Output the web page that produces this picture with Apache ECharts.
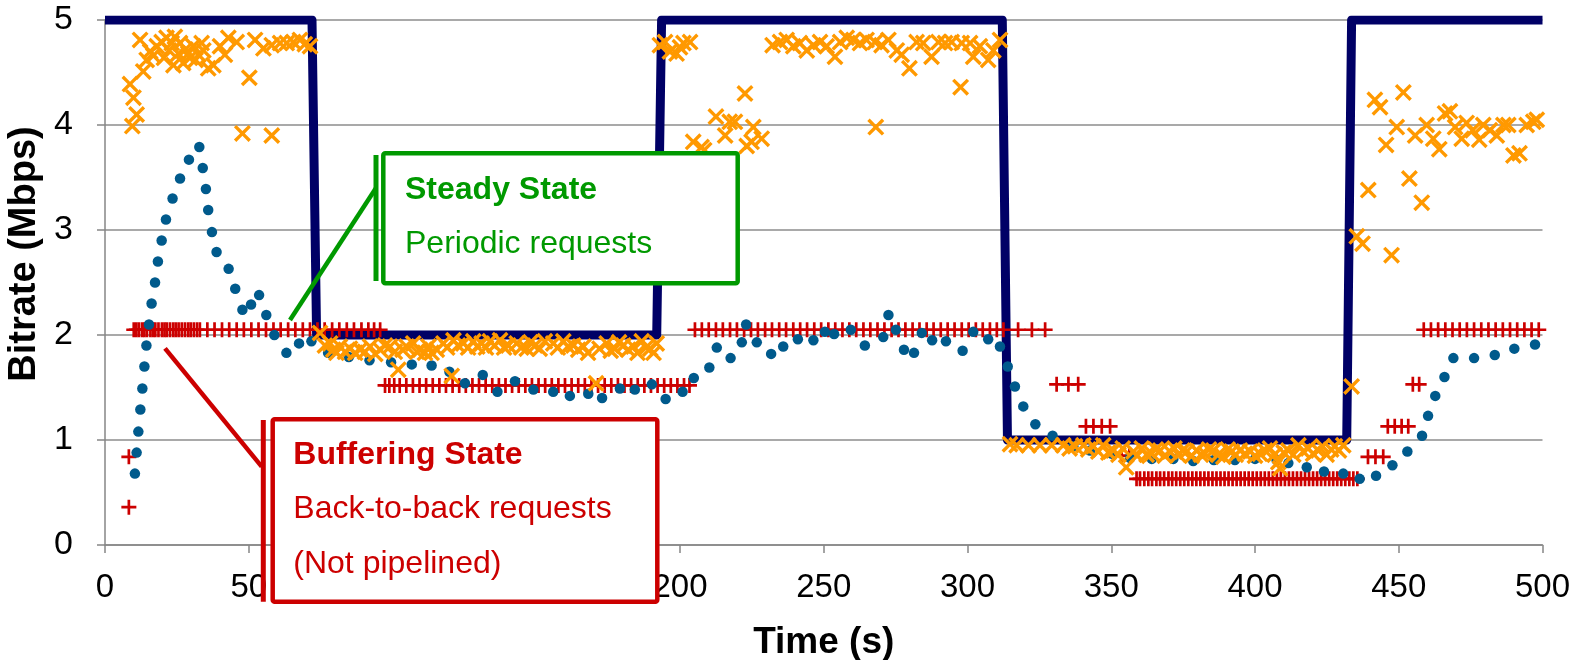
<!DOCTYPE html>
<html>
<head>
<meta charset="utf-8">
<script src="https://cdn.jsdelivr.net/npm/echarts@6/dist/echarts.min.js"></script>
<style>
  html, body { margin: 0; padding: 0; background: #fff; }
  #chart { width: 1591px; height: 660px; }
</style>
</head>
<body>
<div id="chart"></div>
<script>
// Selected (available) bitrate level over time: a step profile
const levelTimes = [0, 72.0, 73.6, 191.9, 193.6, 312.1, 313.9, 431.9, 433.6, 500];
const levelRates = [5, 5, 2, 2, 5, 5, 1, 1, 5, 5];

// Measured throughput (dots)
const dotTimes = [10.4, 11.0, 11.6, 12.3, 13.0, 13.7, 14.4, 15.3, 16.2, 17.4, 18.4, 19.7, 21.2, 23.5, 26.1, 29.2, 32.8, 34.0, 35.1, 35.9,
  37.2, 38.8, 43.0, 45.3, 47.8, 50.8, 53.6, 56.1, 58.9, 63.1, 67.5, 71.8, 77.6, 84.8, 92.0, 99.5, 106.7, 113.6, 119.8, 125.2,
  131.4, 136.5, 142.6, 149.0, 155.9, 161.7, 168.1, 172.9, 179.1, 184.3, 190.2, 195.0, 200.9, 204.8, 210.2, 212.8, 217.6, 221.5, 223.0, 226.7,
  231.7, 235.9, 241.0, 246.4, 250.4, 253.6, 259.4, 264.3, 270.7, 272.5, 275.1, 277.9, 281.4, 284.1, 287.7, 292.5, 298.3, 302.0, 307.2, 311.3,
  314.0, 316.5, 319.4, 323.6, 329.6, 336.8, 342.6, 350.1, 356.5, 364.1, 371.6, 378.5, 385.7, 393.0, 400.0, 407.5, 411.6, 418.0, 424.0, 430.7,
  436.4, 442.1, 447.8, 453.0, 458.1, 460.2, 462.7, 465.9, 469.0, 476.2, 483.4, 490.2, 497.4];
const dotRates = [0.68, 0.88, 1.08, 1.29, 1.49, 1.70, 1.90, 2.10, 2.30, 2.50, 2.70, 2.90, 3.10, 3.30, 3.49, 3.67, 3.79, 3.59, 3.39, 3.19,
  2.98, 2.79, 2.63, 2.44, 2.24, 2.29, 2.38, 2.19, 2.00, 1.83, 1.92, 1.94, 1.83, 1.79, 1.76, 1.74, 1.72, 1.71, 1.65, 1.54,
  1.62, 1.46, 1.56, 1.48, 1.46, 1.42, 1.44, 1.40, 1.49, 1.48, 1.53, 1.39, 1.46, 1.59, 1.69, 1.88, 1.78, 1.93, 2.10, 1.93,
  1.82, 1.89, 1.96, 1.95, 2.03, 2.01, 2.05, 1.90, 1.98, 2.19, 2.05, 1.86, 1.83, 2.02, 1.95, 1.94, 1.85, 2.03, 1.96, 1.89,
  1.70, 1.51, 1.32, 1.15, 1.04, 0.94, 0.90, 0.87, 0.83, 0.82, 0.82, 0.80, 0.81, 0.81, 0.82, 0.81, 0.78, 0.74, 0.70, 0.68,
  0.63, 0.66, 0.76, 0.89, 1.04, 1.23, 1.42, 1.60, 1.78, 1.78, 1.81, 1.87, 1.91];

// Per-segment download rate (crosses)
const crossTimes = [8.7, 9.5, 9.9, 11.0, 12.2, 13.3, 14.5, 15.7, 16.8, 18.0, 19.7, 20.5, 21.4, 22.3, 23.2, 23.8, 24.3, 25.5, 26.1, 27.2,
  28.0, 29.0, 29.6, 30.7, 31.5, 32.5, 33.6, 34.2, 35.9, 37.7, 40.0, 41.7, 42.9, 45.8, 47.8, 50.2, 52.2, 55.1, 58.0, 58.0,
  60.9, 63.2, 65.5, 67.8, 69.5, 71.3,
  74.8, 76.5, 78.3, 79.4, 80.5, 81.7, 83.5, 85.2, 87.0, 88.7, 90.4, 92.2, 94.0, 95.7, 97.4, 99.1, 100.8, 102.0, 103.5, 104.9,
  107.2, 108.5, 109.6, 111.3, 112.5, 113.6, 115.4, 117.7, 119.0, 120.6, 121.2, 122.8, 124.6, 126.3, 128.1, 129.5, 131.0, 132.5, 133.9, 135.5,
  137.4, 138.8, 140.3, 143.2, 144.8, 146.7, 148.0, 149.6, 151.2, 153.0, 155.9, 157.5, 159.4, 161.0, 162.9, 164.6, 166.4, 168.0, 170.8, 172.0,
  174.5, 175.9, 177.4, 178.8, 180.3, 182.0, 183.8, 185.2, 186.7, 188.2, 189.6, 190.8, 191.9,
  193.0, 194.8, 196.5, 198.8, 200.0, 201.2, 203.5, 204.6, 207.5, 208.4, 212.5, 215.7, 217.3, 219.1, 222.6, 223.2, 224.9, 225.5, 228.4,
  232.2, 234.8, 237.1, 239.4, 241.7, 244.1, 246.4, 248.7, 251.0, 253.9, 255.7, 258.0, 260.3, 262.6, 264.9, 267.8, 268.1, 270.1, 272.5, 275.4,
  277.1, 279.8, 282.3, 284.6, 287.5, 289.9, 292.2, 294.5, 297.6, 298.0, 300.9, 302.0, 304.3, 307.2, 309.0, 311.3,
  314.8, 317.1, 321.2, 325.2, 329.3, 333.3, 335.5, 337.4, 340.3, 342.0, 343.8, 345.5, 347.2, 349.0, 350.7, 352.5, 354.0, 355.2, 357.7, 359.0,
  360.6, 362.3, 364.1, 365.5, 367.0, 368.6, 370.4, 372.0, 373.3, 374.8, 376.2, 378.0, 379.7, 381.2, 382.6, 384.0, 385.5, 387.2, 389.0, 390.5,
  391.9, 393.3, 394.8, 396.5, 398.3, 400.0, 401.7, 403.5, 405.2, 406.8, 408.1, 408.7, 410.0, 411.6, 413.3, 415.1, 416.8, 418.5, 420.2, 422.0,
  423.5, 424.9, 426.5, 427.8, 429.2, 430.7,
  433.6, 435.4, 437.4, 439.4, 441.7, 443.5, 445.6, 447.5, 449.3, 451.6, 453.7, 455.7, 458.0, 459.7, 462.0, 464.1, 466.1, 467.8, 469.6, 471.9,
  473.6, 475.7, 478.0, 479.4, 481.7, 484.1, 486.4, 488.1, 489.9, 492.0, 494.5, 496.8, 498.0];
const crossRates = [4.39, 3.99, 4.26, 4.10, 4.81, 4.51, 4.62, 4.70, 4.66, 4.75, 4.79, 4.64, 4.83, 4.71, 4.78, 4.57, 4.84, 4.68, 4.78, 4.59,
  4.72, 4.68, 4.64, 4.75, 4.62, 4.67, 4.78, 4.71, 4.54, 4.57, 4.75, 4.67, 4.83, 4.79, 3.92, 4.45, 4.81, 4.73, 4.76, 3.90,
  4.78, 4.78, 4.79, 4.81, 4.77, 4.75,
  2.02, 1.90, 1.92, 1.86, 1.83, 1.89, 1.84, 1.87, 1.83, 1.86, 1.84, 1.89, 1.82, 1.86, 1.90, 1.89, 1.84, 1.67, 1.86, 1.89,
  1.92, 1.84, 1.86, 1.83, 1.89, 1.83, 1.86, 1.92, 1.88, 1.61, 1.95, 1.90, 1.92, 1.88, 1.94, 1.89, 1.92, 1.88, 1.94, 1.90,
  1.95, 1.88, 1.90, 1.92, 1.88, 1.87, 1.93, 1.90, 1.87, 1.94, 1.92, 1.88, 1.94, 1.89, 1.90, 1.86, 1.89, 1.83, 1.54, 1.87,
  1.92, 1.85, 1.87, 1.93, 1.90, 1.86, 1.89, 1.83, 1.94, 1.88, 1.87, 1.83, 1.92,
  4.76, 4.79, 4.70, 4.68, 4.74, 4.78, 4.79, 3.84, 3.79, 3.76, 4.08, 3.90, 4.03, 4.03, 4.30, 3.80, 3.84, 3.98, 3.87,
  4.76, 4.79, 4.81, 4.75, 4.78, 4.71, 4.76, 4.79, 4.75, 4.65, 4.79, 4.83, 4.81, 4.78, 4.81, 4.79, 3.98, 4.76, 4.81, 4.71,
  4.67, 4.54, 4.79, 4.78, 4.65, 4.79, 4.78, 4.79, 4.36, 4.78, 4.78, 4.65, 4.75, 4.62, 4.71, 4.81,
  0.96, 0.95, 0.95, 0.95, 0.95, 0.95, 0.92, 0.94, 0.95, 0.91, 0.94, 0.89, 0.95, 0.88, 0.90, 0.86, 0.92, 0.74, 0.89, 0.85,
  0.92, 0.86, 0.87, 0.91, 0.90, 0.85, 0.89, 0.92, 0.86, 0.90, 0.89, 0.85, 0.90, 0.86, 0.87, 0.91, 0.90, 0.86, 0.84, 0.91,
  0.89, 0.86, 0.90, 0.87, 0.89, 0.85, 0.87, 0.90, 0.92, 0.86, 0.79, 0.73, 0.88, 0.90, 0.86, 0.95, 0.89, 0.92, 0.87, 0.90,
  0.94, 0.86, 0.91, 0.94, 0.90, 0.95,
  1.51, 2.94, 2.87, 3.38, 4.24, 4.17, 3.81, 2.76, 3.98, 4.31, 3.49, 3.90, 3.26, 4.00, 3.87, 3.77, 4.11, 4.13, 3.98, 3.87,
  4.02, 3.95, 3.86, 4.00, 3.95, 3.90, 4.00, 4.00, 3.71, 3.73, 4.00, 4.03, 4.05];

// Requested segment bitrate (pluses): one rate level per run of requests
const requestLevels = [0.36, 0.84, 2.05, 1.52, 2.05, 1.53, 1.13, 0.85, 0.63, 0.84, 1.13, 1.53, 2.05];
const requestTimes = [
  [8.3],
  [8.3],
  [10.0, 10.9, 11.8, 12.9, 13.7, 14.6, 15.8, 16.7, 17.5, 18.6, 19.8, 20.7, 21.5, 22.6, 23.7, 24.6, 25.6, 26.7, 27.8, 28.9,
   29.8, 30.9, 32.0, 33.0, 35.6, 38.1, 40.7, 43.2, 45.8, 48.3, 50.9, 53.4, 56.0, 58.6, 61.1, 63.7, 66.2, 68.8, 71.3, 73.9,
   76.4, 79.0, 81.5, 84.1, 86.6, 89.2, 91.6, 93.6, 95.7],
  [97.4, 98.9, 100.6, 102.5, 104.8, 107.1, 109.4, 111.7, 114.0, 116.3, 118.6, 120.9, 123.2, 125.5, 127.8, 130.1, 132.4, 134.7, 137.0, 139.3,
   141.6, 143.9, 146.2, 148.5, 150.8, 153.1, 155.4, 157.7, 160.0, 162.3, 164.6, 166.9, 169.2, 171.5, 173.8, 176.1, 178.4, 180.7, 183.0, 185.3,
   187.6, 189.9, 192.2, 194.5, 196.8, 199.1, 201.4, 203.3],
  [205.2, 207.6, 210.0, 212.5, 214.9, 217.4, 219.8, 222.3, 224.7, 227.1, 229.6, 232.0, 234.5, 236.9, 239.4, 241.8, 244.2, 246.7, 249.1, 251.6,
   254.0, 256.5, 258.9, 261.3, 263.8, 266.2, 268.7, 271.1, 273.6, 276.0, 278.4, 280.9, 283.3, 285.8, 288.2, 290.7, 293.1, 295.5, 298.0, 300.4,
   302.9, 305.3, 307.8, 310.2, 312.5, 317.6, 322.4, 327.0],
  [331.0, 335.1, 338.5],
  [341.2, 343.8, 346.7, 349.6],
  [353.6, 356.3],
  [358.8, 360.0, 361.5, 362.9, 364.2, 365.7, 367.0, 368.4, 369.9, 371.2, 372.6, 374.0, 375.4, 376.8, 378.2, 379.6, 381.0, 382.4, 383.8, 385.2,
   386.6, 388.0, 389.4, 390.8, 392.2, 393.6, 395.0, 396.4, 397.8, 399.2, 400.6, 402.0, 403.4, 404.8, 406.2, 407.6, 409.0, 410.4, 411.8, 413.2,
   414.6, 416.0, 417.4, 418.8, 420.2, 421.6, 423.0, 424.4, 425.8, 427.2, 428.6, 430.0, 431.4, 432.8, 434.2, 435.6],
  [439.3, 441.9, 444.6],
  [446.2, 448.6, 451.0, 453.3],
  [454.9, 457.1],
  [458.7, 461.2, 463.7, 466.2, 468.7, 471.2, 473.7, 476.2, 478.7, 481.2, 483.7, 486.2, 488.7, 491.2, 493.7, 496.2, 498.7]
];

const xTicks = { min: 0, max: 500, step: 50 };
const yTicks = { min: 0, max: 5, step: 1 };

const zip = (xs, ys) => xs.map((x, i) => [x, ys[i]]);
const requestPoints = [];
requestLevels.forEach((rate, k) => requestTimes[k].forEach(t => requestPoints.push([t, rate])));

const FONT = "'Liberation Sans', Arial, Helvetica, sans-serif";
const AXIS_GRAY = '#868686';
const CROSS = 'path://M0,2.8L2.8,0L10,7.2L17.2,0L20,2.8L12.8,10L20,17.2L17.2,20L10,12.8L2.8,20L0,17.2L7.2,10Z';
const PLUS = 'path://M8.2,0H11.8V8.2H20V11.8H11.8V20H8.2V11.8H0V8.2H8.2Z';

const GREEN = '#009900';
const RED = '#CC0000';

const chart = echarts.init(document.getElementById('chart'), null, { renderer: 'canvas' });
chart.setOption({
  animation: false,
  backgroundColor: '#ffffff',
  textStyle: { fontFamily: FONT },
  grid: { left: 105, right: 48.5, top: 20, bottom: 115, containLabel: false, outerBoundsMode: 'none' },
  xAxis: {
    type: 'value', min: xTicks.min, max: xTicks.max, interval: xTicks.step,
    axisLine: { show: true, lineStyle: { color: AXIS_GRAY, width: 1.5 } },
    axisTick: { show: true, inside: false, length: 8, lineStyle: { color: AXIS_GRAY, width: 1.5 } },
    splitLine: { show: false },
    axisLabel: { fontSize: 33, color: '#000', margin: 26, fontFamily: FONT },
    name: 'Time (s)', nameLocation: 'middle', nameGap: 79,
    nameTextStyle: { fontSize: 37, fontWeight: 'bold', color: '#000', fontFamily: FONT }
  },
  yAxis: {
    type: 'value', min: yTicks.min, max: yTicks.max, interval: yTicks.step,
    axisLine: { show: true, lineStyle: { color: AXIS_GRAY, width: 1.5 } },
    axisTick: { show: true, inside: false, length: 8, lineStyle: { color: AXIS_GRAY, width: 1.5 } },
    splitLine: { show: true, lineStyle: { color: '#8c8c8c', width: 1.5 } },
    axisLabel: { fontSize: 34, color: '#000', margin: 32, fontFamily: FONT },
    name: 'Bitrate (Mbps)', nameLocation: 'middle', nameGap: 47,
    nameTextStyle: { fontSize: 38, fontWeight: 'bold', color: '#000', fontFamily: FONT, padding: [0, 0, 0, 57] }
  },
  series: [
    {
      name: 'Level', type: 'line', data: zip(levelTimes, levelRates),
      symbol: 'none', clip: true, z: 1,
      lineStyle: { color: '#000066', width: 9, join: 'round', cap: 'butt' }
    },
    {
      name: 'Requested', type: 'scatter', data: requestPoints, z: 2,
      symbol: PLUS, symbolSize: 15,
      itemStyle: { color: RED, opacity: 1 }
    },
    {
      name: 'Throughput', type: 'scatter', data: zip(dotTimes, dotRates), z: 3,
      symbol: 'circle', symbolSize: 10.5,
      itemStyle: { color: '#005A8C', opacity: 1 }
    },
    {
      name: 'Download', type: 'scatter', data: zip(crossTimes, crossRates), z: 4,
      symbol: CROSS, symbolSize: 17,
      itemStyle: { color: '#FF9900', opacity: 1 }
    }
  ],
  graphic: {
    elements: [
      // Steady state callout
      { type: 'line', z: 100, shape: { x1: 290, y1: 320, x2: 376, y2: 188 }, style: { stroke: GREEN, lineWidth: 4.5 } },
      { type: 'line', z: 100, shape: { x1: 376, y1: 155, x2: 376, y2: 281 }, style: { stroke: GREEN, lineWidth: 5 } },
      { type: 'rect', z: 100, shape: { x: 383.3, y: 153.3, width: 354.4, height: 130, r: 2 }, style: { fill: '#fff', stroke: GREEN, lineWidth: 4.5 } },
      { type: 'text', z: 101, style: { text: 'Steady State', x: 405, y: 190.5, fill: GREEN, font: 'bold 32px ' + FONT, align: 'left', verticalAlign: 'middle' } },
      { type: 'text', z: 101, style: { text: 'Periodic requests', x: 405, y: 244, fill: GREEN, font: '32px ' + FONT, align: 'left', verticalAlign: 'middle' } },
      // Buffering state callout
      { type: 'line', z: 100, shape: { x1: 165, y1: 348.3, x2: 261.7, y2: 466.7 }, style: { stroke: RED, lineWidth: 4.5 } },
      { type: 'line', z: 100, shape: { x1: 263.3, y1: 420, x2: 263.3, y2: 601.7 }, style: { stroke: RED, lineWidth: 5 } },
      { type: 'rect', z: 100, shape: { x: 272.7, y: 419.3, width: 384.6, height: 182.4, r: 2 }, style: { fill: '#fff', stroke: RED, lineWidth: 4.5 } },
      { type: 'text', z: 101, style: { text: 'Buffering State', x: 293.3, y: 455.5, fill: RED, font: 'bold 32px ' + FONT, align: 'left', verticalAlign: 'middle' } },
      { type: 'text', z: 101, style: { text: 'Back-to-back requests', x: 293.3, y: 509.5, fill: RED, font: '32px ' + FONT, align: 'left', verticalAlign: 'middle' } },
      { type: 'text', z: 101, style: { text: '(Not pipelined)', x: 293.3, y: 564, fill: RED, font: '32px ' + FONT, align: 'left', verticalAlign: 'middle' } }
    ]
  }
});
</script>
</body>
</html>
